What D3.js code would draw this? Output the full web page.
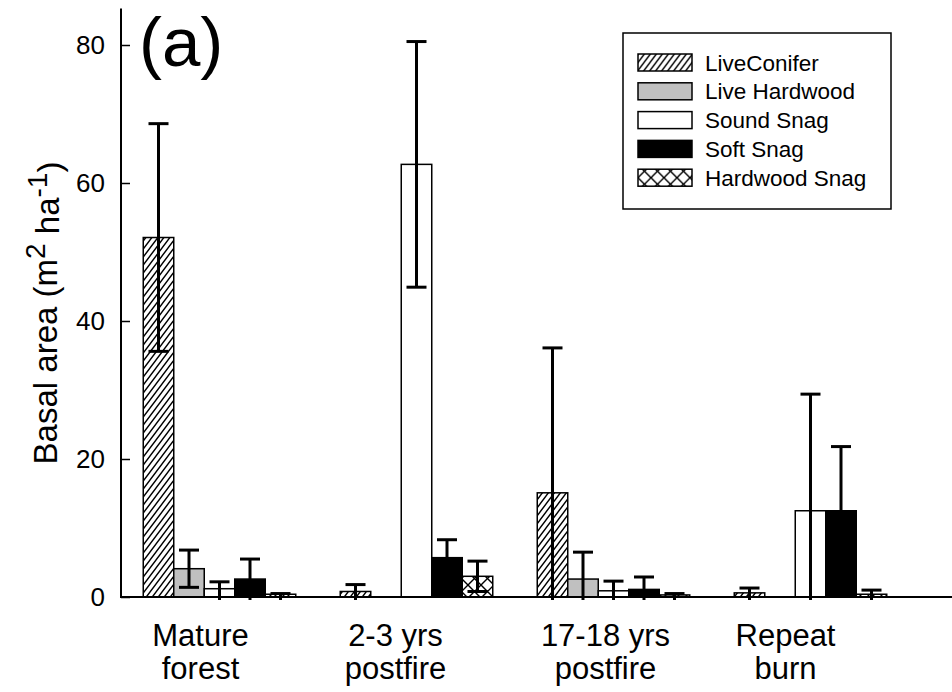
<!DOCTYPE html>
<html>
  <head>
    <title>Basal area bar chart</title>
    <script src="https://d3js.org/d3.v7.min.js"></script>
    <style>
      body { margin: 0; background: #fff; }
      text { font-family: "Liberation Sans", Arial, sans-serif; fill: #000; }
      .tick-label { font-size: 26px; }
      .group-label { font-size: 31px; }
      .legend text { font-size: 22.5px; }
    </style>
  </head>
  <body>
    <svg width="952" height="692"></svg>
    <script>
      const groups = ["Mature forest", "2-3 yrs postfire", "17-18 yrs postfire", "Repeat burn"];
      const groupLines = [["Mature", "forest"], ["2-3 yrs", "postfire"], ["17-18 yrs", "postfire"], ["Repeat", "burn"]];
      const labelShift = [-19, -21, -8, -25];
      const series = ["LiveConifer", "Live Hardwood", "Sound Snag", "Soft Snag", "Hardwood Snag"];
      // mean basal area per group, one entry per series
      const means = [
        [52.1, 4.1, 1.2, 2.6, 0.4],
        [0.8, 0, 62.7, 5.7, 3.0],
        [15.1, 2.6, 0.9, 1.1, 0.3],
        [0.6, 0, 12.5, 12.5, 0.4]
      ];
      const errors = [
        [16.5, 2.7, 1.0, 2.9, 0.1],
        [1.0, 0, 17.8, 2.6, 2.2],
        [21.0, 3.9, 1.4, 1.8, 0.2],
        [0.7, 0, 16.9, 9.3, 0.6]
      ];
      const yTicks = [0, 20, 40, 60, 80];

      const svg = d3.select("svg");
      const defs = svg.append("defs");

      defs.append("pattern")
          .attr("id", "hatch")
          .attr("patternUnits", "userSpaceOnUse")
          .attr("width", 6).attr("height", 8)
        .append("path")
          .attr("d", "M0,8 L6,0 M-1.5,2 L1.5,-2 M4.5,10 L7.5,6")
          .attr("stroke", "#000").attr("stroke-width", 1.4);

      defs.append("pattern")
          .attr("id", "cross")
          .attr("patternUnits", "userSpaceOnUse")
          .attr("width", 13).attr("height", 13)
        .append("path")
          .attr("d", "M0,0 L13,13 M13,0 L0,13")
          .attr("stroke", "#000").attr("stroke-width", 1.4);

      const fills = ["url(#hatch)", "#c0c0c0", "#ffffff", "#000000", "url(#cross)"];
      const color = d3.scaleOrdinal().domain(series).range(fills);

      const x0 = d3.scaleBand().domain(groups).range([121, 909]);
      const barsWidth = 152.5;
      const x1 = d3.scaleBand().domain(series)
        .range([(x0.bandwidth() - barsWidth) / 2, (x0.bandwidth() + barsWidth) / 2]);
      const y = d3.scaleLinear().domain([0, 85]).range([597, 10.5]);

      const rows = [];
      groups.forEach((g, gi) => {
        series.forEach((s, si) => {
          rows.push({ group: g, series: s, value: means[gi][si], err: errors[gi][si] });
        });
      });

      const bx = d => x0(d.group) + x1(d.series);

      // bars
      svg.append("g")
        .selectAll("rect")
        .data(rows.filter(d => d.value > 0))
        .join("rect")
          .attr("x", bx)
          .attr("y", d => y(d.value))
          .attr("width", x1.bandwidth())
          .attr("height", d => y(0) - y(d.value))
          .attr("fill", d => color(d.series))
          .attr("stroke", "#000")
          .attr("stroke-width", 1.5);

      // error bars
      const capW = 20;
      const eg = svg.append("g").attr("stroke", "#000").attr("stroke-width", 3);
      rows.filter(d => d.err > 0).forEach(d => {
        const cx = bx(d) + x1.bandwidth() / 2;
        const hi = d.value + d.err;
        const lo = d.value - d.err;
        const yLo = lo < 0.5 ? y(0) + 3 : y(lo);
        eg.append("line")
          .attr("x1", cx).attr("x2", cx)
          .attr("y1", y(hi)).attr("y2", yLo);
        eg.append("line")
          .attr("x1", cx - capW / 2).attr("x2", cx + capW / 2)
          .attr("y1", y(hi)).attr("y2", y(hi));
        if (lo >= 0.5) {
          eg.append("line")
            .attr("x1", cx - capW / 2).attr("x2", cx + capW / 2)
            .attr("y1", y(lo)).attr("y2", y(lo));
        }
      });

      // y axis
      const yAxis = d3.axisRight(y).tickValues(yTicks).tickSize(9).tickFormat("");
      const yg = svg.append("g").attr("transform", "translate(121,0)").call(yAxis);
      yg.select(".domain").remove();
      yg.selectAll(".tick line").attr("stroke-width", 1.5);
      svg.append("line")
        .attr("x1", 121).attr("x2", 121)
        .attr("y1", y(85.3)).attr("y2", y(0) + 1)
        .attr("stroke", "#000").attr("stroke-width", 2);
      svg.append("g").selectAll("text")
        .data(yTicks)
        .join("text")
          .attr("class", "tick-label")
          .attr("x", 105)
          .attr("y", d => y(d))
          .attr("dy", "0.36em")
          .attr("text-anchor", "end")
          .text(d => d);

      // x axis
      svg.append("line")
        .attr("x1", 120).attr("x2", 952)
        .attr("y1", y(0)).attr("y2", y(0))
        .attr("stroke", "#000").attr("stroke-width", 2);
      const gl = svg.append("g");
      groups.forEach((g, gi) => {
        const cx = x0(g) + x0.bandwidth() / 2 + labelShift[gi];
        groupLines[gi].forEach((line, li) => {
          gl.append("text")
            .attr("class", "group-label")
            .attr("x", cx)
            .attr("y", 646 + li * 33)
            .attr("text-anchor", "middle")
            .text(line);
        });
      });

      // y title
      const title = svg.append("text")
        .attr("transform", "translate(57,313) rotate(-90)")
        .attr("text-anchor", "middle")
        .style("font-size", "33px");
      title.append("tspan").text("Basal area (m");
      title.append("tspan").attr("dy", "-0.42em").style("font-size", "28px").text("2");
      title.append("tspan").attr("dy", "0.42em").text(" ha");
      title.append("tspan").attr("dy", "-0.42em").style("font-size", "28px").text("-1");
      title.append("tspan").attr("dy", "0.42em").text(")");

      // panel letter
      svg.append("text")
        .attr("x", 139).attr("y", 66)
        .style("font-size", "69px")
        .text("(a)");

      // legend
      const legend = svg.append("g").attr("class", "legend");
      legend.append("rect")
        .attr("x", 623).attr("y", 33)
        .attr("width", 268).attr("height", 176)
        .attr("fill", "#fff").attr("stroke", "#000").attr("stroke-width", 1.5);
      const items = legend.selectAll(".item")
        .data(series)
        .join("g")
          .attr("class", "item")
          .attr("transform", (d, i) => `translate(638, ${62.5 + i * 28.8})`);
      items.append("rect")
        .attr("x", 0).attr("y", -8.5)
        .attr("width", 54).attr("height", 17)
        .attr("fill", d => color(d))
        .attr("stroke", "#000").attr("stroke-width", 1.5);
      items.append("text")
        .attr("x", 67).attr("dy", "0.36em")
        .text(d => d);
    </script>
  </body>
</html>
